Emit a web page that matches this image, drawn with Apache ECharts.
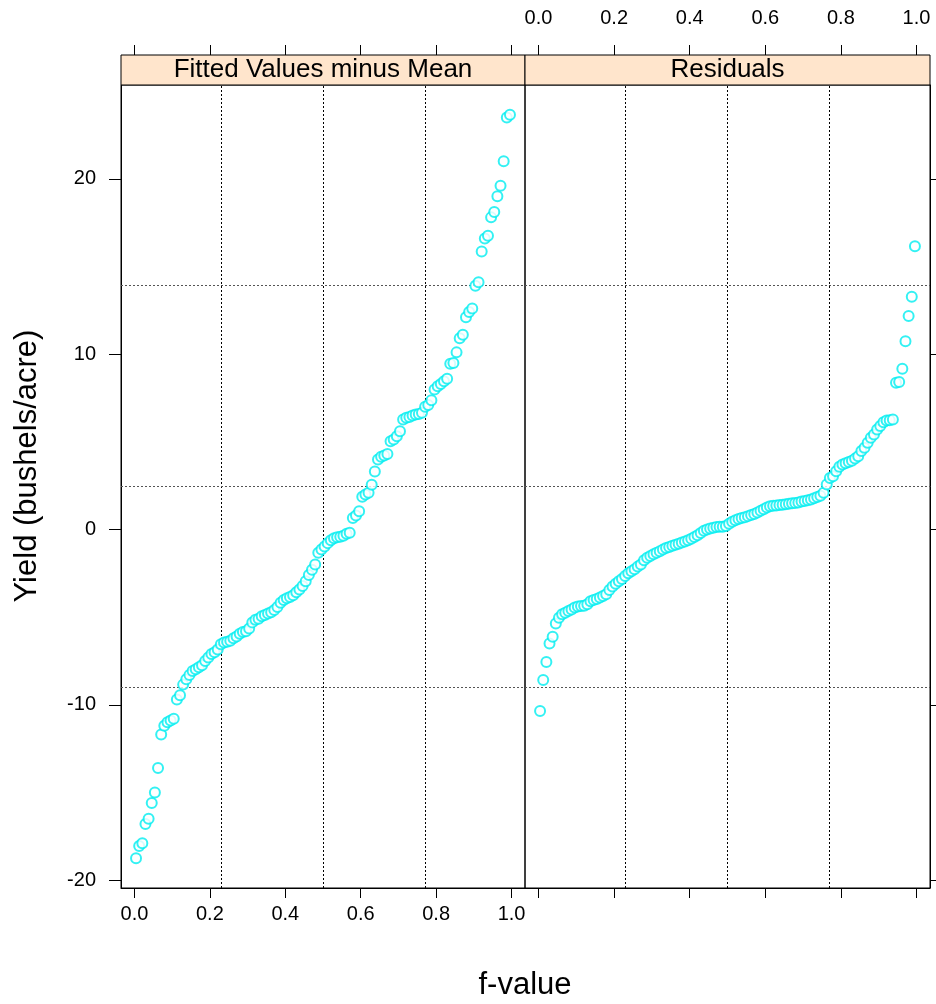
<!DOCTYPE html>
<html>
<head>
<meta charset="utf-8">
<script src="https://cdn.jsdelivr.net/npm/echarts@6/dist/echarts.min.js"></script>
<style>
html,body{margin:0;padding:0;background:#fff;}
#chart{width:936px;height:1004px;}
</style>
</head>
<body>
<div id="chart"></div>
<script>
// ---- data ----
const panelNames = ["Fitted Values minus Mean", "Residuals"];
const fittedMinusMean = [
  -18.75, -18.05, -17.9, -16.8, -16.5, -15.6, -15.0, -13.6, -11.7, -11.2,
  -11.0, -10.9, -10.8, -9.7, -9.45, -8.85, -8.55, -8.3, -8.07, -7.98,
  -7.86, -7.75, -7.5, -7.3, -7.1, -7.0, -6.85, -6.55, -6.45, -6.4,
  -6.35, -6.2, -6.1, -5.95, -5.85, -5.8, -5.65, -5.3, -5.15, -5.1,
  -4.95, -4.88, -4.79, -4.72, -4.6, -4.42, -4.18, -4.02, -3.92, -3.85,
  -3.75, -3.58, -3.42, -3.23, -2.95, -2.6, -2.3, -2.0, -1.33, -1.14,
  -0.97, -0.78, -0.62, -0.5, -0.45, -0.42, -0.36, -0.25, -0.19, 0.66,
  0.8, 1.04, 1.86, 2.0, 2.1, 2.55, 3.3, 3.99, 4.15, 4.22,
  4.3, 5.03, 5.13, 5.32, 5.6, 6.27, 6.37, 6.42, 6.5, 6.55,
  6.58, 6.65, 7.0, 7.1, 7.37, 7.98, 8.17, 8.3, 8.45, 8.6,
  9.45, 9.5, 10.1, 10.9, 11.1, 12.1, 12.4, 12.6, 13.9, 14.1,
  15.85, 16.6, 16.75, 17.8, 18.1, 19.0, 19.6, 21.0, 23.5, 23.65
];
const residuals = [
  -10.35, -8.59, -7.56, -6.5, -6.12, -5.36, -5.03, -4.84, -4.75, -4.65,
  -4.56, -4.45, -4.4, -4.37, -4.35, -4.27, -4.1, -4.03, -3.96, -3.88,
  -3.8, -3.7, -3.45, -3.25, -3.1, -2.95, -2.82, -2.66, -2.5, -2.38,
  -2.27, -2.12, -2.0, -1.75, -1.62, -1.52, -1.42, -1.33, -1.25, -1.15,
  -1.06, -1.0, -0.93, -0.87, -0.81, -0.75, -0.69, -0.62, -0.53, -0.43,
  -0.33, -0.2, -0.08, 0.0, 0.06, 0.1, 0.14, 0.15, 0.16, 0.2,
  0.32, 0.44, 0.53, 0.6, 0.65, 0.7, 0.76, 0.82, 0.88, 0.97,
  1.06, 1.15, 1.25, 1.33, 1.35, 1.37, 1.39, 1.41, 1.44, 1.47,
  1.49, 1.51, 1.54, 1.59, 1.62, 1.66, 1.71, 1.78, 1.85, 1.92,
  2.09, 2.56, 2.94, 3.04, 3.32, 3.57, 3.7, 3.78, 3.85, 3.92,
  4.04, 4.18, 4.47, 4.66, 4.94, 5.23, 5.41, 5.7, 5.9, 6.12,
  6.21, 6.23, 6.27, 8.37, 8.41, 9.17, 10.74, 12.17, 13.27, 16.15
];
const xTicks = [0, 0.2, 0.4, 0.6, 0.8, 1.0];
const yTicks = [-20, -10, 0, 10, 20];
const refX = [0.231, 0.498, 0.766];
const refY = [13.95, 2.45, -9.0];
const xTitle = "f-value";
const yTitle = "Yield (bushels/acre)";

// ---- layout ----
const X_MIN = -0.0357, X_MAX = 1.0357;
const Y_MIN = -20.45, Y_MAX = 25.35;
const G_TOP = 85, G_H = 803, STRIP_H = 30;
const G_LEFT = [121, 525], G_W = [404, 405];
const FONT = "Liberation Sans, Arial, Helvetica, sans-serif";
const PT_COLOR = "#00eef0";

function pairs(vals) {
  const n = vals.length;
  return vals.map((v, i) => [(i + 0.5) / n, v]);
}

const black = '#000';
function xAxisDef(grid, pos, showLabels, offset) {
  return {
    type: 'value', gridIndex: grid, position: pos, offset: offset || 0,
    min: X_MIN, max: X_MAX,
    axisLine: { show: pos === 'bottom', onZero: false, lineStyle: { color: black, width: 1 } },
    axisTick: { show: true, customValues: xTicks, length: 10, lineStyle: { color: black, width: 1 } },
    axisLabel: { show: showLabels, customValues: xTicks, formatter: v => v.toFixed(1),
      color: black, fontSize: 20, fontFamily: FONT, margin: pos === 'top' ? 27 : 16 },
    splitLine: { show: false }
  };
}
function yAxisDef(grid, pos, showLabels) {
  return {
    type: 'value', gridIndex: grid, position: pos,
    min: Y_MIN, max: Y_MAX,
    axisLine: { show: true, onZero: false, lineStyle: { color: black, width: 1 } },
    axisTick: { show: true, customValues: yTicks, length: 12, lineStyle: { color: black, width: 1 } },
    axisLabel: { show: showLabels, customValues: yTicks, color: black, fontSize: 20, fontFamily: FONT, margin: 25 },
    splitLine: { show: false }
  };
}

const refLines = [].concat(
  refX.map(v => ({ xAxis: v, lineStyle: { color: '#000', type: [2, 2], width: 1 } })),
  refY.map(v => ({ yAxis: v, lineStyle: { color: '#555', type: [2, 2], width: 1 } }))
);

function scatter(vals, xi, yi) {
  return {
    type: 'scatter', xAxisIndex: xi, yAxisIndex: yi,
    data: pairs(vals), symbol: 'emptyCircle', symbolSize: 10,
    itemStyle: { color: PT_COLOR, borderColor: PT_COLOR, borderWidth: 1 },
    z: 5, silent: true,
    markLine: { silent: true, symbol: ['none', 'none'], label: { show: false }, z: 2,
      data: refLines, animation: false }
  };
}

const graphics = [];
panelNames.forEach((name, k) => {
  graphics.push({
    type: 'rect', shape: { x: G_LEFT[k], y: G_TOP - STRIP_H, width: G_W[k], height: STRIP_H },
    style: { fill: '#ffe5cc', stroke: '#000', lineWidth: 1 }, z: 10
  });
  graphics.push({
    type: 'text', x: G_LEFT[k] + G_W[k] / 2, y: G_TOP - STRIP_H / 2,
    style: { text: name, fill: '#000', font: '26px ' + FONT, textAlign: 'center', textVerticalAlign: 'middle' }, z: 11
  });
});
graphics.push({
  type: 'text', x: 525, y: 985,
  style: { text: xTitle, fill: '#000', font: '31px ' + FONT, textAlign: 'center', textVerticalAlign: 'middle' }
});
graphics.push({
  type: 'text', x: 27, y: 466, rotation: Math.PI / 2,
  style: { text: yTitle, fill: '#000', font: '31px ' + FONT, textAlign: 'center', textVerticalAlign: 'middle' }
});

const chart = echarts.init(document.getElementById('chart'), null, { renderer: 'canvas' });
chart.setOption({
  animation: false,
  backgroundColor: '#fff',
  grid: [0, 1].map(k => ({
    left: G_LEFT[k], top: G_TOP, width: G_W[k], height: G_H,
    show: true, borderColor: '#000', borderWidth: 1, backgroundColor: 'transparent'
  })),
  xAxis: [
    xAxisDef(0, 'bottom', true),
    xAxisDef(0, 'top', false, STRIP_H),
    xAxisDef(1, 'bottom', false),
    xAxisDef(1, 'top', true, STRIP_H)
  ],
  yAxis: [
    yAxisDef(0, 'left', true),
    yAxisDef(1, 'right', false)
  ],
  series: [
    scatter(fittedMinusMean, 0, 0),
    scatter(residuals, 2, 1)
  ],
  graphic: graphics
});
</script>
</body>
</html>
